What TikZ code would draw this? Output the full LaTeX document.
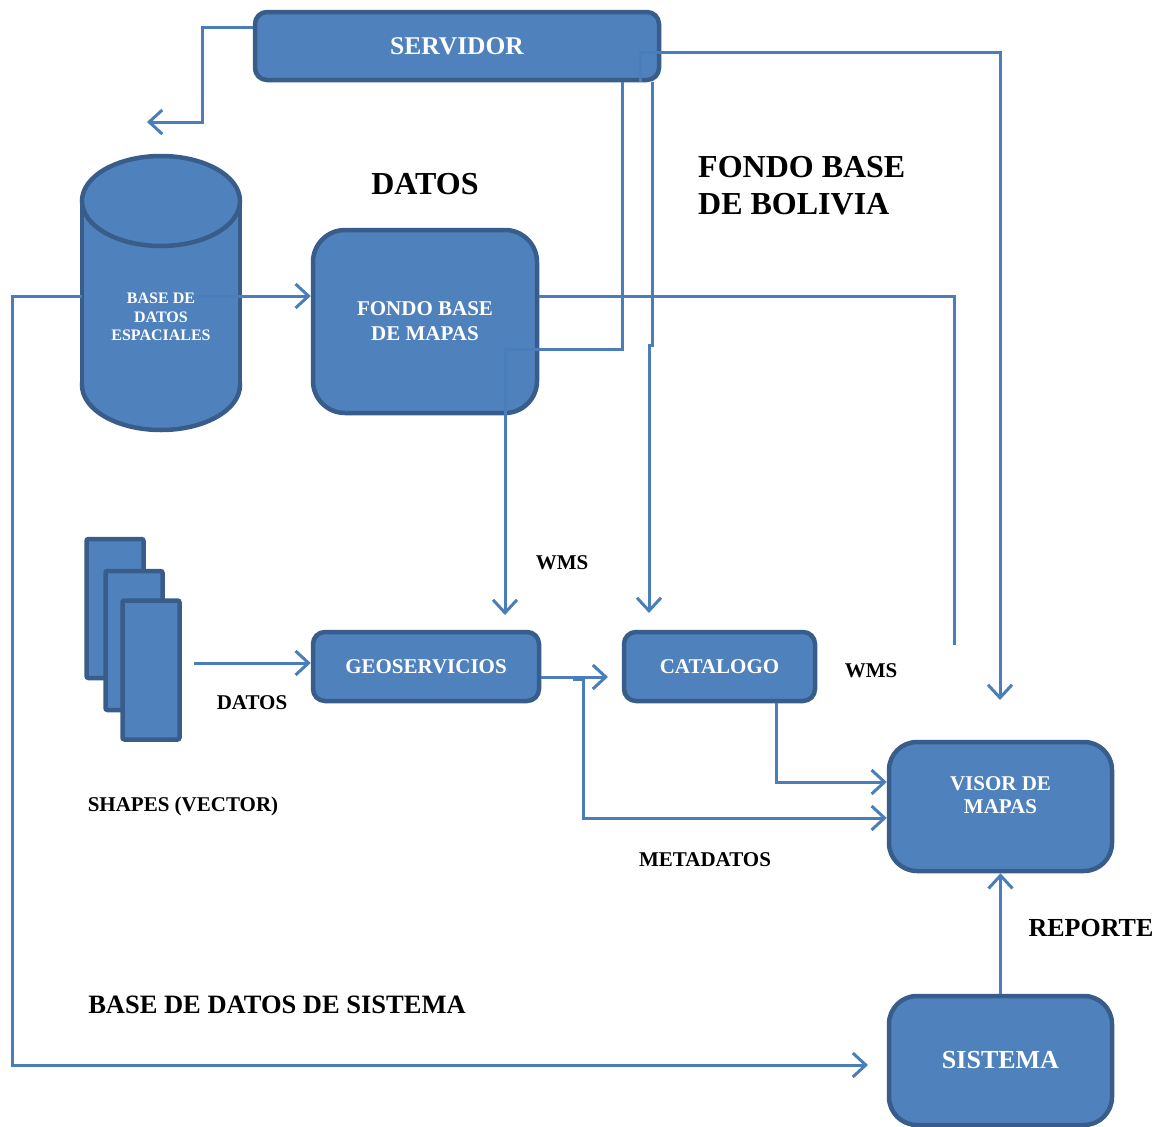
\documentclass[tikz,border=0pt]{standalone}
\usepackage{fontspec}
\setmainfont{Liberation Serif}
\usetikzlibrary{arrows.meta}
\definecolor{boxfill}{HTML}{4F81BD}
\definecolor{boxline}{HTML}{385D8A}
\definecolor{linecol}{HTML}{4A7EBB}
\newcommand\szf[2]{\fontsize{#1}{#2}\selectfont\bfseries}
\tikzset{
  box/.style={draw=boxline, line width=4.5pt, fill=boxfill, text=white,
    align=center, inner sep=0pt},
  sheet/.style={draw=boxline, line width=4.5pt, fill=boxfill, rounded corners=2pt,
    minimum width=57pt, minimum height=139pt, inner sep=0pt},
  conn/.style={draw=linecol, line width=3pt},
  arr/.style={-{Straight Barb[length=13pt,width=24pt]}},
  lbl/.style={text=black, inner sep=0pt},
}
\begin{document}
\begin{tikzpicture}[x=1pt,y=-1pt]
\useasboundingbox (0,0) rectangle (1163,1127);

% database cylinder
\draw[boxline, line width=4.5pt, fill=boxfill] (161,385) ellipse[x radius=79, y radius=45];
\fill[boxfill] (82,201) rectangle (240,385);
\draw[boxline, line width=4.5pt] (82,201) -- (82,385) (240,201) -- (240,385);
\draw[boxline, line width=4.5pt, fill=boxfill] (161,201) ellipse[x radius=79, y radius=45];
\node[lbl, text=white, align=center, font=\szf{16}{18.5}] (cyl) at (161,317)
  {BASE DE\\DATOS\\ESPACIALES};

% stacked vector sheets
\node[sheet] (shp1) at (115,608.5) {};
\node[sheet] (shp2) at (134,640.5) {};
\node[sheet] (shp3) at (151,670) {};

% main boxes
\node[box, rounded corners=12pt, minimum width=404pt, minimum height=68pt,
  font=\szf{25.5}{30}] (servidor) at (457,46) {SERVIDOR};
\node[box, rounded corners=32pt, minimum width=224pt, minimum height=183pt,
  font=\szf{21}{25}] (fondo) at (425,321.5) {FONDO BASE\\DE MAPAS};
\node[box, rounded corners=12pt, minimum width=226pt, minimum height=69pt,
  font=\szf{21}{25}] (geo) at (426,666.5) {GEOSERVICIOS};
\node[box, rounded corners=12pt, minimum width=191pt, minimum height=69pt,
  font=\szf{21}{25}] (cat) at (719.5,666.5) {CATALOGO};
\node[box, rounded corners=28pt, minimum width=223pt, minimum height=129pt] (visor)
  at (1000.5,806.5) {};
\node[lbl, text=white, align=center, font=\szf{21}{23}] (visortxt) at (1000.5,795)
  {VISOR DE\\MAPAS};
\node[box, rounded corners=28pt, minimum width=223pt, minimum height=129pt,
  font=\szf{26}{30}] (sistema) at (1000.5,1060.5) {SISTEMA};

% free labels
\node[lbl, font=\szf{32}{37}] (datos) at (425,184) {DATOS};
\node[lbl, anchor=west, align=left, font=\szf{32}{37}] (bolivia) at (698,186)
  {FONDO BASE\\DE BOLIVIA};
\node[lbl, font=\szf{21}{25}] (wms1) at (562,563) {WMS};
\node[lbl, font=\szf{21}{25}] (wms2) at (871,671) {WMS};
\node[lbl, font=\szf{21}{25}] (datos2) at (252,703) {DATOS};
\node[lbl, font=\szf{21}{25}] (shapes) at (183,806) {SHAPES (VECTOR)};
\node[lbl, font=\szf{21}{25}] (meta) at (705,860) {METADATOS};
\node[lbl, font=\szf{26}{30}] (reporte) at (1091,928) {REPORTE};
\node[lbl, font=\szf{26.5}{30}] (bdsis) at (277,1005) {BASE DE DATOS DE SISTEMA};

% routing points
\coordinate (lt) at (147,122);
\coordinate (r0) at (640,52);
\coordinate (vt) at (1000,700);
\coordinate (b1) at (622,349);
\coordinate (b2) at (505,349);
\coordinate (gIn) at (505,615);
\coordinate (d1) at (652,345);
\coordinate (d2) at (649,345);
\coordinate (cIn) at (649,613);
\coordinate (f1) at (954,296);
\coordinate (f2) at (954,645);
\coordinate (k1) at (197,296);
\coordinate (cylW) at (82,296);
\coordinate (e1) at (12,296);
\coordinate (sIn) at (868,1065);
\coordinate (h1) at (194,663);
\coordinate (m1) at (608,677);
\coordinate (n1) at (573,679);
\coordinate (n3) at (583,818);
\coordinate (p1) at (776,782);

% connectors
\draw[conn, arr] (servidor.west) ++(0,-19) -- ++(-50,0) |- (lt);
\draw[conn, arr] (servidor.south -| r0) -- (r0) -| (vt);
\draw[conn, arr] (servidor.south -| b1) -- (b1) -- (b2) -- (gIn);
\draw[conn, arr] (servidor.south -| d1) -- (d1) -- (d2) -- (cIn);
\draw[conn] (fondo.east |- f1) -- (f1) -- (f2);
\draw[conn, arr] (k1) -- (fondo.west |- k1);
\draw[conn, arr] (cylW) -- (e1) |- (sIn);
\draw[conn, arr] (h1) -- (geo.west |- h1);
\draw[conn, arr] (geo.east |- m1) -- (m1);
\draw[conn, arr] (n1) -- ++(10,0) -- (n3) -- (visor.west |- n3);
\draw[conn, arr] (cat.south -| p1) -- (p1) -- (visor.west |- p1);
\draw[conn, arr] (sistema.north) -- (visor.south);
\end{tikzpicture}
\end{document}
